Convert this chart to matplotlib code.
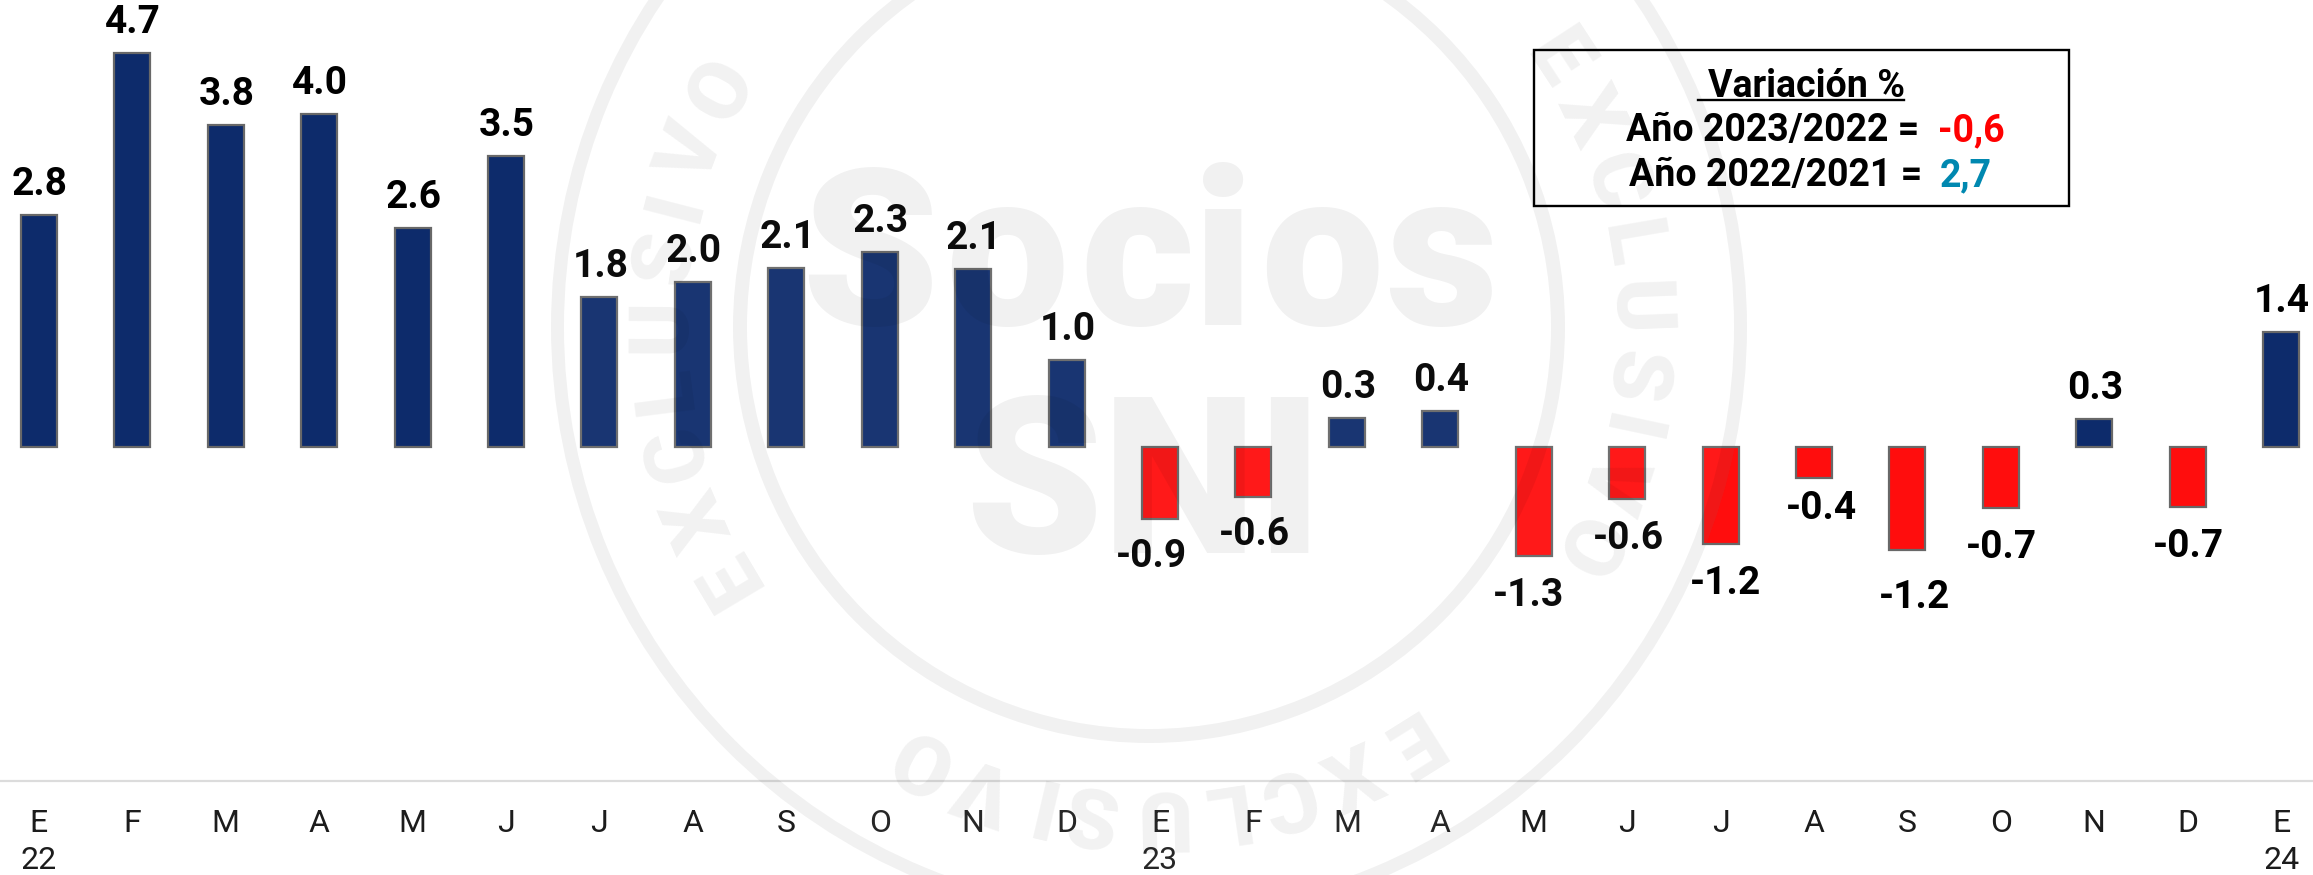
import numpy as np
import matplotlib
matplotlib.use("Agg")
import matplotlib.pyplot as plt
from matplotlib.patches import Circle, Wedge

months = ["E","F","M","A","M","J","J","A","S","O","N","D",
          "E","F","M","A","M","J","J","A","S","O","N","D","E"]
years = ["22","","","","","","","","","","","",
         "23","","","","","","","","","","","","24"]
values = [2.76,4.69,3.83,3.97,2.61,3.47,1.79,1.97,2.13,2.32,2.12,1.04,
          -0.86,-0.60,0.34,0.43,-1.30,-0.62,-1.15,-0.37,-1.23,-0.73,0.33,-0.72,1.37]
value_labels = ["2.8","4.7","3.8","4.0","2.6","3.5","1.8","2.0","2.1","2.3","2.1","1.0",
                "-0.9","-0.6","0.3","0.4","-1.3","-0.6","-1.2","-0.4","-1.2","-0.7","0.3","-0.7","1.4"]
# small nudges of the value labels (px)
label_dx = [1]*12 + [-9,1,1,1,-5,1,5,7,7,1,1,1,1]
label_dy = [0]*12 + [0,0,0,0,2,2,2,-7,10,2,0,2,0]
# angular distance between neighbouring watermark letters (degrees)
letter_steps = [7.67, 8.2, 7.6, 7.55, 8.0, 6.2, 6.3, 8.26]
# "Socios" letters of the watermark with their horizontal centres (px)
socios_letters = ["S", "o", "c", "i", "o", "s"]
socios_centres = [870, 1007, 1137, 1223, 1322, 1441]

W, H = 2313, 875
DPI = 100
NAVY, RED = "#0d2b6b", "#ff0d0d"
EDGE = "#686868"
FONT = "Roboto"

fig = plt.figure(figsize=(W/DPI, H/DPI), dpi=DPI, facecolor="white")
AXIS_Y, ZERO_Y, PPU = 781, 447, 84
X0, DX = 38.8, 93.43
ax = fig.add_axes([0, 1-AXIS_Y/H, 1, AXIS_Y/H])
ax.set_xlim(-X0/DX, (W-X0)/DX)
ax.set_ylim(-(AXIS_Y-ZERO_Y)/PPU, ZERO_Y/PPU)
x = np.arange(len(values))
ax.bar(x, values, width=36/DX, color=[NAVY if v >= 0 else RED for v in values],
       edgecolor=EDGE, linewidth=1.6)
for i, v in enumerate(values):
    px = x[i] + label_dx[i]/DX
    off = 20 if v >= 0 else -(48 + label_dy[i])
    ax.annotate(value_labels[i], (px, v), xytext=(0, off*72/DPI), textcoords="offset points",
                ha="center", va="baseline", fontsize=28, fontweight="bold", family=FONT, color="black")

for s in ["top", "left", "right"]:
    ax.spines[s].set_visible(False)
ax.spines["bottom"].set_color("#dcdcdc")
ax.spines["bottom"].set_linewidth(1.6)
ax.set_yticks([])
ax.set_xticks(x)
ax.set_xticklabels([m + "\n" + y if y else m for m, y in zip(months, years)],
                   family=FONT, fontsize=23, color="#1c1c1c", linespacing=1.34, va="top")
ax.tick_params(axis="x", length=0, pad=20.5)

ov = fig.add_axes([0, 0, 1, 1], facecolor="none")
ov.set_xlim(0, W)
ov.set_ylim(H, 0)
ov.axis("off")

# variation box
ov.add_patch(plt.Rectangle((1534, 50), 535, 156, fc="none", ec="black", lw=1.7, zorder=5))
box_kw = dict(ha="left", va="baseline", family=FONT, fontweight="bold", fontsize=27, zorder=6)
ov.text(1708, 97, "Variación %", color="black", **box_kw)
ov.plot([1698, 1904], [100, 100], color="black", lw=1.7, zorder=6)
ov.text(1626, 141, "Año 2023/2022 =", color="black", **box_kw)
ov.text(1938, 141, "-0,6", color="#ff0000", **box_kw)
ov.text(1629, 186, "Año 2022/2021 =", color="black", **box_kw)
ov.text(1940, 186, "2,7", color="#0088b0", **box_kw)

# watermark
CX, CY = 1149, 327
WM = (0, 0, 0, 0.055)
ov.add_patch(Circle((CX, CY), 598, fc=(1, 1, 1, 0.05), ec="none", zorder=1))
ov.add_patch(Wedge((CX, CY), 598, 0, 360, width=13, fc=WM, ec="none", zorder=2))
ov.add_patch(Wedge((CX, CY), 416, 0, 360, width=14, fc=WM, ec="none", zorder=2))
for c, cx in zip(socios_letters, socios_centres):
    ov.text(cx, 325, c, ha="center", va="baseline", family=FONT, fontweight="black",
            fontsize=158, color=WM, zorder=2)
ov.text(1144, 553, "SNI", ha="center", va="baseline", family=FONT, fontweight="black",
        fontsize=158, color=WM, zorder=2)

word = "EXCLUSIVO"
offsets = np.cumsum([0] + letter_steps)
for start in (210.8, 33.2, -58.0):
    for c, d in zip(word, offsets):
        th = start - d
        r = 487
        px = CX + r*np.cos(np.radians(th))
        py = CY - r*np.sin(np.radians(th))
        ov.text(px, py, c, ha="center", va="center", rotation=th-90, rotation_mode="anchor",
                family=FONT, fontweight="black", fontsize=60, color=WM, zorder=2)

fig.savefig("out.png", dpi=DPI, facecolor="white")
